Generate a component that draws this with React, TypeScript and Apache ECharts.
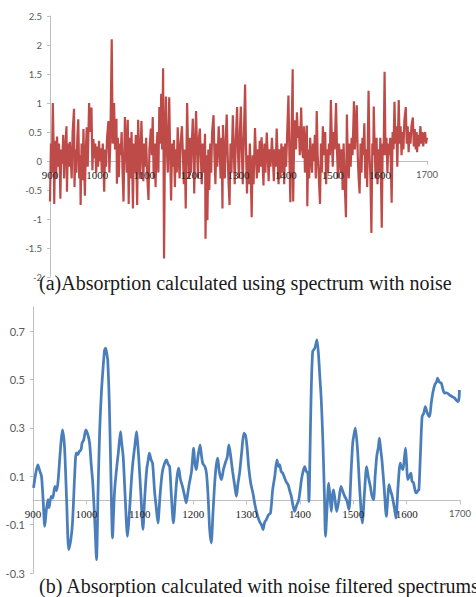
import React, { useEffect, useRef } from "react";
import * as echarts from "echarts";

// Top panel: absorption with noise (wavelength nm, absorption)
const noisySpectrum: [number, number][] = [
  [900,-0.7],[902,0.3],[904,-0.2],[906,1.0],[908,0.1],[909,-0.74],[911,0.35],[913,-0.3],[915,0.42],[917,-0.1],
  [919,0.3],[921,-0.2],[922,-0.65],[924,0.2],[926,-0.05],[928,0.45],[930,-0.3],[932,0.2],[935,0.6],[936,-0.53],
  [938,0.3],[940,-0.1],[942,0.33],[944,0.05],[946,-0.3],[948,0.5],[951,0.9],[952,-0.45],[954,0.2],[956,-0.2],
  [958,0.4],[960,0.72],[962,-0.3],[964,0.1],[965,-0.76],[967,0.3],[969,-0.33],[971,0.55],[972,0.1],[974,-0.6],
  [976,0.2],[978,0.58],[980,-0.1],[983,1.0],[985,0.5],[988,0.92],[990,-0.16],[992,0.38],[994,0.05],[996,0.3],
  [998,-0.2],[1000,0.25],[1002,-0.1],[1004,0.35],[1006,0.0],[1008,0.22],[1010,-0.2],[1012,0.3],[1015,-0.53],[1017,0.2],
  [1019,-0.1],[1021,0.4],[1024,0.69],[1026,-0.2],[1028,0.3],[1031,2.1],[1033,0.3],[1036,1.0],[1038,0.2],[1041,0.73],
  [1042,-0.39],[1044,0.4],[1046,-0.28],[1048,0.3],[1050,0.1],[1052,0.5],[1054,-0.2],[1056,-0.7],[1059,0.76],[1061,0.3],
  [1063,-0.2],[1065,0.71],[1067,-0.74],[1069,0.4],[1071,-0.3],[1073,0.5],[1074,0.1],[1076,-0.82],[1078,0.3],[1080,-0.2],
  [1082,0.45],[1085,-0.76],[1087,0.71],[1089,0.2],[1091,-0.3],[1094,0.69],[1096,0.1],[1098,-0.35],[1100,0.3],[1102,-0.1],
  [1104,0.4],[1106,-0.2],[1109,-0.67],[1111,0.2],[1114,0.56],[1116,0.1],[1118,0.76],[1120,-0.3],[1122,0.3],[1124,-0.45],
  [1126,0.2],[1128,0.5],[1130,-0.2],[1132,0.93],[1134,0.3],[1136,1.16],[1138,0.2],[1140,1.6],[1142,-1.68],[1144,0.4],
  [1146,1.11],[1148,0.2],[1150,-0.2],[1153,1.1],[1155,0.1],[1157,-0.68],[1159,0.3],[1161,-0.1],[1163,0.36],[1165,-0.45],
  [1167,0.2],[1169,-0.2],[1171,0.58],[1173,0.1],[1175,-0.3],[1177,0.3],[1180,0.6],[1182,0.1],[1184,-0.4],[1186,0.2],
  [1188,-0.82],[1191,1.0],[1193,0.2],[1195,-0.3],[1197,0.4],[1199,-0.2],[1201,0.3],[1203,0.73],[1205,0.1],[1206,-0.56],
  [1208,0.3],[1210,0.86],[1212,0.2],[1214,-0.3],[1216,0.4],[1218,0.56],[1220,0.1],[1222,-0.4],[1224,0.3],[1226,-0.2],
  [1229,0.47],[1230,-1.34],[1232,0.1],[1234,-1.02],[1236,0.2],[1238,-0.5],[1240,0.3],[1242,-0.2],[1244,0.5],[1247,0.79],
  [1249,0.1],[1251,-0.4],[1253,0.3],[1255,-0.1],[1258,0.6],[1260,0.2],[1262,-0.3],[1264,0.4],[1266,-0.82],[1267,0.62],
  [1269,0.1],[1271,-0.3],[1273,0.4],[1275,0.8],[1277,0.1],[1279,-0.4],[1281,-0.76],[1283,0.3],[1285,-0.2],[1288,0.79],
  [1290,0.2],[1292,-0.4],[1294,0.3],[1297,0.93],[1299,0.1],[1301,-0.3],[1303,0.5],[1305,0.94],[1307,0.2],[1309,-0.4],
  [1311,0.3],[1314,1.32],[1316,0.2],[1318,-0.56],[1320,0.1],[1322,-0.4],[1324,0.3],[1326,-0.2],[1328,-0.97],[1330,0.1],
  [1332,-0.4],[1335,0.57],[1337,0.1],[1339,-0.3],[1341,0.2],[1343,-0.2],[1345,0.35],[1347,-0.1],[1349,0.41],[1351,0.0],
  [1353,-0.42],[1355,0.3],[1357,-0.2],[1360,0.49],[1362,0.1],[1364,-0.35],[1366,0.2],[1368,-0.1],[1371,0.4],[1373,0.05],
  [1375,-0.35],[1377,0.2],[1379,-0.1],[1381,0.56],[1383,0.1],[1385,-0.4],[1387,0.2],[1389,-0.3],[1391,0.3],[1393,-0.2],
  [1395,0.25],[1397,-0.4],[1399,0.3],[1401,-0.1],[1403,0.4],[1406,1.13],[1408,0.1],[1410,-0.71],[1412,0.2],[1415,1.58],
  [1416,-0.7],[1418,0.3],[1420,0.7],[1422,0.2],[1424,0.84],[1426,0.4],[1428,0.6],[1430,0.1],[1433,0.92],[1435,0.2],
  [1437,0.05],[1439,0.6],[1441,-0.2],[1443,0.3],[1445,0.61],[1446,-0.78],[1448,0.2],[1450,-0.3],[1452,0.4],[1454,0.1],
  [1456,-0.2],[1458,0.3],[1460,0.0],[1462,0.45],[1464,-0.3],[1466,0.86],[1468,0.1],[1470,-0.2],[1473,-0.74],[1475,0.3],
  [1477,-0.2],[1479,0.6],[1481,0.1],[1484,0.5],[1486,-0.4],[1488,0.2],[1490,-0.2],[1492,0.3],[1494,0.1],[1496,1.05],
  [1498,0.4],[1500,-0.1],[1502,0.5],[1504,0.2],[1507,1.0],[1509,0.2],[1511,-0.3],[1513,0.3],[1515,0.1],[1517,-0.2],
  [1519,0.2],[1521,-0.5],[1523,0.3],[1525,-0.3],[1528,-0.97],[1530,0.8],[1532,0.0],[1534,-0.3],[1536,0.3],[1538,-0.1],
  [1540,0.4],[1542,0.1],[1545,1.03],[1547,0.2],[1549,0.6],[1551,0.96],[1553,0.1],[1555,-0.3],[1557,-0.56],[1559,0.3],
  [1561,-0.2],[1563,0.4],[1565,0.1],[1567,0.65],[1569,-0.3],[1571,0.2],[1573,-0.45],[1576,1.21],[1578,0.1],[1580,-0.3],
  [1582,-1.24],[1584,0.3],[1586,0.1],[1587,0.94],[1589,0.2],[1591,-0.3],[1593,0.4],[1595,-0.4],[1597,0.2],[1599,-0.2],
  [1601,0.4],[1604,-1.15],[1606,0.3],[1608,0.1],[1610,1.54],[1612,0.1],[1614,0.4],[1616,-0.2],[1618,0.3],[1620,0.1],
  [1622,0.4],[1625,-0.72],[1627,0.5],[1629,0.2],[1631,1.02],[1633,0.3],[1635,0.6],[1637,-0.1],[1640,1.05],[1642,0.3],
  [1644,0.6],[1646,0.1],[1648,0.5],[1650,0.2],[1652,0.7],[1655,0.93],[1657,0.3],[1659,0.6],[1661,0.15],[1663,0.5],
  [1665,0.3],[1667,0.6],[1670,0.75],[1672,0.25],[1674,0.55],[1676,0.2],[1678,0.5],[1679,0.15],[1681,0.45],[1683,0.25],
  [1686,0.6],[1688,0.3],[1690,0.5],[1692,0.25],[1694,0.45],[1696,0.5],[1698,0.3],[1700,0.4]
];

// Bottom panel: absorption with noise-filtered spectra
const filteredSpectrum: [number, number][] = [
  [901,0.052],[905,0.11],[909,0.147],[913,0.12],[916,0.099],[919,0.0],[922,-0.107],[925,-0.04],[928,0.003],[930,-0.03],
  [934,0.017],[937,0.01],[941,0.058],[944,0.04],[947,0.08],[951,0.2],[955,0.292],[959,0.223],[963,0.0],[967,-0.204],
  [971,-0.16],[974,-0.093],[978,0.1],[981,0.197],[984,0.19],[987,0.203],[990,0.21],[992,0.238],[995,0.25],[999,0.292],
  [1003,0.27],[1006,0.238],[1009,0.15],[1012,0.073],[1016,-0.1],[1019,-0.245],[1022,0.05],[1025,0.292],[1028,0.44],[1031,0.54],
  [1034,0.62],[1036,0.63],[1038,0.61],[1040,0.58],[1043,0.4],[1046,0.1],[1049,-0.155],[1051,-0.05],[1053,0.044],[1057,0.14],
  [1060,0.2],[1064,0.285],[1066,0.24],[1069,0.18],[1073,0.0],[1077,-0.149],[1079,-0.1],[1081,-0.038],[1084,0.07],[1087,0.154],
  [1091,0.23],[1094,0.285],[1096,0.24],[1098,0.18],[1102,0.03],[1106,-0.12],[1109,0.0],[1113,0.127],[1116,0.17],[1118,0.196],
  [1121,0.17],[1124,0.154],[1128,0.031],[1131,-0.03],[1134,-0.093],[1138,0.02],[1142,0.113],[1146,0.15],[1150,0.168],[1153,0.15],
  [1156,0.14],[1159,0.03],[1163,-0.093],[1167,0.02],[1170,0.1],[1173,0.134],[1176,0.09],[1180,0.058],[1184,0.02],[1187,-0.01],
  [1190,0.03],[1193,0.072],[1197,0.12],[1201,0.216],[1203,0.16],[1206,0.127],[1209,0.18],[1213,0.23],[1216,0.18],[1218,0.154],
  [1222,0.14],[1225,0.113],[1228,0.02],[1231,-0.12],[1234,-0.176],[1237,-0.06],[1240,0.058],[1243,0.14],[1246,0.175],[1249,0.12],
  [1253,0.086],[1257,0.13],[1261,0.16],[1264,0.18],[1267,0.23],[1270,0.19],[1274,0.12],[1278,0.06],[1281,0.017],[1284,0.07],
  [1287,0.113],[1291,0.2],[1295,0.278],[1298,0.27],[1301,0.223],[1304,0.14],[1308,0.07],[1312,0.031],[1316,-0.02],[1321,-0.066],
  [1325,-0.09],[1328,-0.1],[1331,-0.121],[1334,-0.09],[1337,-0.08],[1341,-0.06],[1345,-0.052],[1349,0.044],[1353,0.1],[1357,0.168],
  [1360,0.14],[1362,0.148],[1365,0.12],[1368,0.113],[1372,0.09],[1375,0.075],[1378,0.065],[1381,0.04],[1384,0.017],[1387,-0.02],
  [1390,-0.045],[1394,-0.02],[1398,0.003],[1403,0.086],[1406,0.12],[1409,0.14],[1412,0.12],[1415,0.113],[1417,-0.004],[1419,0.2],
  [1421,0.43],[1424,0.616],[1428,0.63],[1432,0.664],[1435,0.6],[1437,0.526],[1440,0.42],[1443,0.25],[1446,0.02],[1448,-0.149],
  [1451,-0.03],[1454,0.072],[1457,0.0],[1459,-0.045],[1461,0.02],[1463,0.044],[1466,0.0],[1469,-0.045],[1473,0.0],[1477,0.058],
  [1480,0.04],[1484,0.017],[1488,0.0],[1492,-0.038],[1496,0.12],[1499,0.237],[1502,0.28],[1504,0.299],[1508,0.21],[1512,0.05],
  [1517,-0.093],[1521,0.03],[1525,0.14],[1528,0.1],[1532,0.058],[1535,0.02],[1538,0.003],[1541,0.1],[1544,0.182],[1547,0.22],
  [1549,0.258],[1551,0.22],[1554,0.161],[1558,0.05],[1562,-0.066],[1565,0.02],[1567,0.065],[1570,0.04],[1573,0.017],[1577,-0.03],
  [1580,-0.073],[1584,0.06],[1588,0.154],[1590,0.14],[1593,0.127],[1596,0.18],[1598,0.216],[1600,0.15],[1602,0.086],[1605,0.1],
  [1608,0.113],[1610,0.08],[1613,0.072],[1616,0.04],[1618,0.031],[1621,0.04],[1623,0.044],[1626,0.2],[1629,0.347],[1632,0.36],
  [1635,0.388],[1639,0.36],[1643,0.347],[1646,0.4],[1649,0.444],[1653,0.48],[1656,0.49],[1658,0.506],[1661,0.49],[1665,0.485],
  [1668,0.46],[1671,0.444],[1675,0.445],[1680,0.437],[1685,0.43],[1690,0.423],[1693,0.415],[1696,0.409],[1698,0.42],[1699,0.457]
];

const xMin = 900;
const xMax = 1700;
const xStep = 100;
const topYMin = -2;
const topYMax = 2.5;
const topYStep = 0.5;
const bottomYMin = -0.3;
const bottomYMax = 0.8;
const bottomYStep = 0.2;

const captionA = "(a)Absorption calculated using spectrum with noise";
const captionB = "(b) Absorption calculated with noise filtered spectrums";

const axisGray = "#BFBFBF";
const labelGray = "#595959";

const topGrid = { left: 50, top: 16, width: 377, height: 261 };
const bottomGrid = { left: 33, top: 307, width: 427, height: 266 };

// shift the x axis (line, ticks and labels) from the grid's bottom edge up to y = 0
function zeroOffset(height: number, min: number, max: number) {
  return -(height * (0 - min)) / (max - min);
}

function xLabelFormatter(v: number) {
  return v === xMax ? `{s|${v}}` : `{t|${v}}`;
}

const xRich = {
  t: { fontFamily: '"Liberation Serif", serif', fontSize: 11, color: "#222" },
  s: { fontFamily: "Lato, sans-serif", fontSize: 9.5, color: labelGray },
};

// axis carrying the data: line and ticks, drawn below the series
function xLineAxis(gridIndex: number, offset: number) {
  return {
    type: "value", gridIndex, min: xMin, max: xMax, interval: xStep,
    position: "bottom", offset, z: 0,
    axisLine: { onZero: false, lineStyle: { color: axisGray, width: 1 } },
    axisTick: { show: true, length: 4, lineStyle: { color: axisGray } },
    axisLabel: { show: false },
    splitLine: { show: false },
  };
}

// same scale, only its labels, drawn above the series
function xLabelAxis(gridIndex: number, offset: number) {
  return {
    type: "value", gridIndex, min: xMin, max: xMax, interval: xStep,
    position: "bottom", offset, z: 10,
    axisLine: { show: false, onZero: false },
    axisTick: { show: false },
    axisLabel: { margin: 8, formatter: xLabelFormatter, rich: xRich },
    splitLine: { show: false },
  };
}

export default function App() {
  const ref = useRef<HTMLDivElement>(null);
  useEffect(() => {
    if (!ref.current) return;
    const chart = echarts.init(ref.current, null, { renderer: "svg" });
    const topOffset = zeroOffset(topGrid.height, topYMin, topYMax);
    const bottomOffset = zeroOffset(bottomGrid.height, bottomYMin, bottomYMax);
    const option: any = {
      animation: false,
      backgroundColor: "#ffffff",
      grid: [
        { ...topGrid, outerBoundsMode: "none", containLabel: false },
        { ...bottomGrid, outerBoundsMode: "none", containLabel: false },
      ],
      xAxis: [
        xLineAxis(0, topOffset),
        xLineAxis(1, bottomOffset),
        xLabelAxis(0, topOffset),
        xLabelAxis(1, bottomOffset),
      ],
      yAxis: [
        {
          type: "value", gridIndex: 0, min: topYMin, max: topYMax, interval: topYStep,
          axisLine: { show: true, onZero: false, lineStyle: { color: axisGray, width: 1 } },
          axisTick: { show: true, length: 3, lineStyle: { color: axisGray } },
          axisLabel: { color: labelGray, fontFamily: "Lato, sans-serif", fontSize: 9.5, margin: 8 },
          splitLine: { show: false },
        },
        {
          type: "value", gridIndex: 1, min: bottomYMin, max: bottomYMax, interval: bottomYStep,
          axisLine: { show: true, onZero: false, lineStyle: { color: axisGray, width: 1 } },
          axisTick: { show: true, length: 3, lineStyle: { color: axisGray } },
          axisLabel: { color: labelGray, fontFamily: "Lato, sans-serif", fontSize: 11, margin: 8, showMaxLabel: false },
          splitLine: { show: false },
        },
      ],
      series: [
        {
          type: "line", xAxisIndex: 0, yAxisIndex: 0, data: noisySpectrum,
          showSymbol: false, lineStyle: { color: "#BE4B48", width: 2.2 }, z: 3,
        },
        {
          type: "line", xAxisIndex: 1, yAxisIndex: 1, data: filteredSpectrum,
          showSymbol: false, smooth: 0.25, lineStyle: { color: "#4A7EBB", width: 2.75 }, z: 3,
        },
      ],
      graphic: [
        {
          type: "text", left: 39, top: 273,
          style: { text: captionA, font: '20px "Liberation Serif", serif', fill: "#1a1a1a" },
          z: 10,
        },
        {
          type: "text", left: 39, top: 576,
          style: { text: captionB, font: '20px "Liberation Serif", serif', fill: "#1a1a1a" },
          z: 10,
        },
      ],
    };
    chart.setOption(option);
    return () => chart.dispose();
  }, []);
  return (
    <div
      ref={ref}
      style={{ position: "absolute", left: 0, top: 0, width: 476, height: 597, background: "#fff" }}
    />
  );
}
